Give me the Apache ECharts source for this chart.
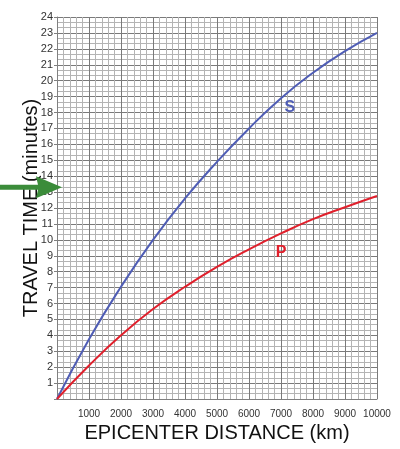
<!DOCTYPE html>
<html>
<head>
<meta charset="utf-8">
<script src="https://cdn.jsdelivr.net/npm/echarts@6/dist/echarts.min.js"></script>
<style>
html,body{margin:0;padding:0;background:#fff;}
#chart{width:400px;height:449px;}
</style>
</head>
<body>
<div id="chart"></div>
<script>
const distances = [0, 1000, 2000, 3000, 4000, 5000, 6000, 7000, 8000, 9000, 10000];
const sWaveTimes = [0, 3.75, 7.05, 10.0, 12.6, 14.9, 17.0, 18.9, 20.5, 21.85, 23.0];
const pWaveTimes = [0, 2.1, 4.0, 5.65, 7.05, 8.3, 9.4, 10.4, 11.3, 12.05, 12.75];
const sLabelPos = [7280, 18.3];
const pLabelPos = [7000, 9.2];
const arrowTime = 13.3;

const chart = echarts.init(document.getElementById('chart'), null, {renderer: 'canvas'});
const font = 'Liberation Sans, Arial, sans-serif';

const option = {
  animation: false,
  backgroundColor: '#fff',
  grid: {left: 57, right: 23, top: 17, bottom: 50, containLabel: false},
  xAxis: {
    type: 'value', min: 0, max: 10000, interval: 1000,
    name: 'EPICENTER DISTANCE (km)', nameLocation: 'middle', nameGap: 23,
    nameTextStyle: {fontFamily: font, fontSize: 20, color: '#111'},
    axisLine: {lineStyle: {color: '#808080', width: 1}},
    axisTick: {show: false},
    axisLabel: {fontFamily: font, fontSize: 10, color: '#333', margin: 10,
      formatter: v => v === 0 ? '' : String(v)},
    splitLine: {show: true, lineStyle: {color: '#7a7a7a', width: 1}},
    minorTick: {show: false, splitNumber: 5},
    minorSplitLine: {show: true, lineStyle: {color: '#b4b4b4', width: 1}}
  },
  yAxis: {
    type: 'value', min: 0, max: 24, interval: 1,
    name: 'TRAVEL TIME (minutes)', nameLocation: 'middle', nameGap: 16,
    nameMoveOverlap: false,
    nameTextStyle: {fontFamily: font, fontSize: 20, color: '#111'},
    axisLine: {lineStyle: {color: '#808080', width: 1}},
    axisTick: {show: true, length: 3, lineStyle: {color: '#808080'}},
    axisLabel: {fontFamily: font, fontSize: 11, color: '#333', margin: 4,
      formatter: v => v === 0 ? '' : String(v)},
    splitLine: {show: true, lineStyle: {color: '#7a7a7a', width: 1}},
    minorTick: {show: false, splitNumber: 3},
    minorSplitLine: {show: true, lineStyle: {color: '#b4b4b4', width: 1}}
  },
  series: [
    {
      name: 'S', type: 'line', smooth: 0.5, showSymbol: false,
      data: distances.map((d, i) => [d, sWaveTimes[i]]),
      lineStyle: {color: '#4f5db5', width: 2},
      markPoint: {
        symbol: 'circle', symbolSize: 0,
        data: [{coord: sLabelPos, value: 'S'}],
        label: {show: true, formatter: 'S', fontFamily: font, fontWeight: 'bold', fontSize: 16, color: '#4f5db5'}
      }
    },
    {
      name: 'P', type: 'line', smooth: 0.5, showSymbol: false,
      data: distances.map((d, i) => [d, pWaveTimes[i]]),
      lineStyle: {color: '#e0202c', width: 2},
      markPoint: {
        symbol: 'circle', symbolSize: 0,
        data: [{coord: pLabelPos, value: 'P'}],
        label: {show: true, formatter: 'P', fontFamily: font, fontWeight: 'bold', fontSize: 16, color: '#e0202c'}
      }
    }
  ]
};
chart.setOption(option);

const tip = chart.convertToPixel({gridIndex: 0}, [0, arrowTime]);
const ty = tip[1], tx = tip[0] + 5;
chart.setOption({
  graphic: [{
    type: 'polygon', z: 100,
    shape: {points: [[0, ty - 2.5], [tx - 24, ty - 2.5], [tx - 26, ty - 11], [tx, ty], [tx - 26, ty + 11], [tx - 24, ty + 2.5], [0, ty + 2.5]]},
    style: {fill: '#3b8c3a'}
  }]
});
</script>
</body>
</html>
